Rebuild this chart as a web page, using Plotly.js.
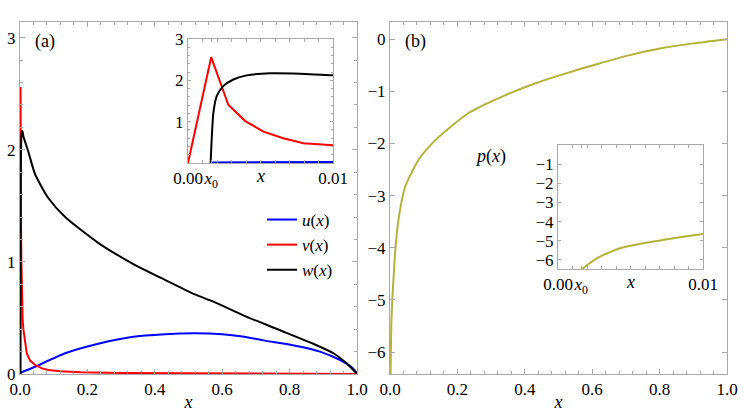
<!DOCTYPE html>
<html>
<head>
<meta charset="utf-8">
<script src="https://cdn.plot.ly/plotly-3.0.1.min.js"></script>
<style>html,body{margin:0;padding:0;background:#fff;}#chart{width:747px;height:412px;}</style>
</head>
<body>
<div id="chart"></div>
<script>
// ---- data ----
const xU = [0.0016, 0.01, 0.045, 0.134, 0.232, 0.331, 0.43, 0.519, 0.6, 0.66, 0.722, 0.821, 0.89, 0.95, 0.98, 1.0];
const uVals = [0.012, 0.022, 0.065, 0.185, 0.27, 0.33, 0.355, 0.363, 0.355, 0.335, 0.30, 0.25, 0.20, 0.125, 0.07, 0.01];

const xV = [0, 0.0016, 0.00278, 0.00393, 0.0052, 0.00657, 0.00795, 0.01, 0.02, 0.03, 0.045, 0.065, 0.084, 0.12, 0.18, 0.3, 0.5, 0.7, 1.0];
const vVals = [0, 2.56, 1.41, 1.02, 0.76, 0.60, 0.48, 0.40, 0.185, 0.12, 0.08, 0.05, 0.036, 0.024, 0.015, 0.009, 0.005, 0.003, 0.0];

const xW = [0.00156, 0.00175, 0.00198, 0.00243, 0.00313, 0.00405, 0.00566, 0.00772, 0.01, 0.025, 0.045, 0.084, 0.134, 0.232, 0.331, 0.43, 0.519, 0.574, 0.673, 0.772, 0.87, 0.93, 0.969, 1.0];
const wVals = [0.0, 1.21, 1.62, 1.86, 2.02, 2.12, 2.17, 2.16, 2.12, 1.98, 1.78, 1.57, 1.40, 1.17, 0.99, 0.84, 0.71, 0.645, 0.51, 0.39, 0.27, 0.185, 0.095, 0.0];

const xP = [0.0016, 0.00267, 0.00428, 0.00657, 0.0084, 0.01, 0.015, 0.025, 0.045, 0.084, 0.134, 0.232, 0.331, 0.43, 0.519, 0.603, 0.702, 0.801, 0.9, 1.0];
const pVals = [-6.5, -5.91, -5.39, -5.04, -4.81, -4.64, -4.11, -3.47, -2.83, -2.32, -1.94, -1.42, -1.105, -0.85, -0.66, -0.50, -0.32, -0.18, -0.08, 0.0];

const insetXTickVals = [0, 0.0016, 0.01];
const insetXTickText = ['0.00', '<i>x</i><sub>0</sub>', '0.01'];
const insetAYTicks = [1, 2, 3];
const insetBYTicks = [-1, -2, -3, -4, -5, -6];

const seriesNames = ['<i>u</i>(<i>x</i>)', '<i>v</i>(<i>x</i>)', '<i>w</i>(<i>x</i>)'];

// ---- styling ----
const FONT = 'Liberation Serif';
const FRAME = '#a8a8a8';
const cU = '#0000ff', cV = '#ff0000', cW = '#000000', cP = '#b4b23a';
const LW = 2;

function frameAxis(extra) {
  return Object.assign({
    showline: true, linecolor: FRAME, linewidth: 1, mirror: 'allticks',
    ticks: 'inside', ticklen: 5, tickcolor: FRAME, tickwidth: 1,
    showgrid: false, zeroline: false, tickangle: 0,
    tickfont: {family: FONT, size: 17, color: '#000'},
    fixedrange: true
  }, extra);
}

const smooth = {shape: 'spline', smoothing: 0.6};

const traces = [
  {x: xU, y: uVals, xaxis: 'x', yaxis: 'y', mode: 'lines', name: seriesNames[0], line: Object.assign({color: cU, width: LW}, smooth)},
  {x: xV, y: vVals, xaxis: 'x', yaxis: 'y', mode: 'lines', name: seriesNames[1], line: {color: cV, width: LW}},
  {x: xW, y: wVals, xaxis: 'x', yaxis: 'y', mode: 'lines', name: seriesNames[2], line: Object.assign({color: cW, width: LW}, smooth)},
  {x: xP, y: pVals, xaxis: 'x2', yaxis: 'y2', mode: 'lines', name: 'p(x)', showlegend: false, line: Object.assign({color: cP, width: LW}, smooth)},
  {x: xU, y: uVals, xaxis: 'x3', yaxis: 'y3', mode: 'lines', showlegend: false, line: {color: cU, width: LW}},
  {x: xV, y: vVals, xaxis: 'x3', yaxis: 'y3', mode: 'lines', showlegend: false, line: {color: cV, width: LW}},
  {x: xW, y: wVals, xaxis: 'x3', yaxis: 'y3', mode: 'lines', showlegend: false, line: Object.assign({color: cW, width: LW}, smooth)},
  {x: xP, y: pVals, xaxis: 'x4', yaxis: 'y4', mode: 'lines', showlegend: false, line: Object.assign({color: cP, width: LW}, smooth)}
];

const W = 747, H = 412;
const px = v => v / W, py = v => (H - v) / H;

const layout = {
  width: W, height: H,
  margin: {l: 0, r: 0, t: 0, b: 0},
  paper_bgcolor: '#fff', plot_bgcolor: 'rgba(0,0,0,0)',
  font: {family: FONT, size: 17, color: '#000'},
  showlegend: true,
  legend: {
    x: px(262), y: py(202), xanchor: 'left', yanchor: 'top',
    bgcolor: 'rgba(0,0,0,0)', borderwidth: 0,
    font: {family: FONT, size: 17, color: '#000'},
    tracegroupgap: 0
  },
  xaxis: frameAxis({domain: [px(20), px(357)], range: [0, 1], dtick: 0.2, tick0: 0, tickformat: '.1f',
    minor: {dtick: 0.04, ticklen: 3, tickcolor: FRAME, ticks: 'inside'},
    title: {text: '<i>x</i>', standoff: 0, font: {family: FONT, size: 18}}, anchor: 'y'}),
  yaxis: frameAxis({domain: [py(374), py(22)], range: [0, 3.14], dtick: 1, tick0: 0,
    minor: {dtick: 0.2, ticklen: 3, tickcolor: FRAME, ticks: 'inside'}, anchor: 'x'}),
  xaxis2: frameAxis({domain: [px(390), px(727)], range: [0, 1], dtick: 0.2, tick0: 0, tickformat: '.1f',
    minor: {dtick: 0.04, ticklen: 3, tickcolor: FRAME, ticks: 'inside'},
    title: {text: '<i>x</i>', standoff: 0, font: {family: FONT, size: 18}}, anchor: 'y2'}),
  yaxis2: frameAxis({domain: [py(374), py(22)], range: [-6.42, 0.33], dtick: 1, tick0: 0, anchor: 'x2'}),
  xaxis3: frameAxis({domain: [px(188), px(333)], range: [0, 0.01], tickmode: 'array',
    tickvals: insetXTickVals, ticktext: insetXTickText, ticklen: 3,
    minor: {tickmode: 'linear', tick0: 0, dtick: 0.001, ticklen: 3, tickcolor: FRAME, ticks: 'inside'}, anchor: 'y3'}),
  yaxis3: frameAxis({domain: [py(163), py(39)], range: [0, 3], tickmode: 'array', tickvals: insetAYTicks, ticklen: 3,
    minor: {tickmode: 'linear', tick0: 0, dtick: 0.2, ticklen: 2, tickcolor: FRAME, ticks: 'inside'}, anchor: 'x3'}),
  xaxis4: frameAxis({domain: [px(558), px(703)], range: [0, 0.01], tickmode: 'array',
    tickvals: insetXTickVals, ticktext: insetXTickText, ticklen: 3,
    minor: {tickmode: 'linear', tick0: 0, dtick: 0.001, ticklen: 3, tickcolor: FRAME, ticks: 'inside'}, anchor: 'y4'}),
  yaxis4: frameAxis({domain: [py(269), py(145)], range: [-6.47, 0], tickmode: 'array', tickvals: insetBYTicks, ticklen: 3, anchor: 'x4'}),
  annotations: [
    {text: '(a)', xref: 'paper', yref: 'paper', x: px(45), y: py(42), showarrow: false, xanchor: 'center', yanchor: 'middle', font: {family: FONT, size: 18}},
    {text: '(b)', xref: 'paper', yref: 'paper', x: px(415), y: py(42), showarrow: false, xanchor: 'center', yanchor: 'middle', font: {family: FONT, size: 18}},
    {text: '<i>p</i>(<i>x</i>)', xref: 'paper', yref: 'paper', x: px(491), y: py(156), showarrow: false, xanchor: 'center', yanchor: 'middle', font: {family: FONT, size: 18}},
    {text: '<i>x</i>', xref: 'x3', yref: 'paper', x: 0.005, y: py(176), showarrow: false, xanchor: 'center', yanchor: 'middle', font: {family: FONT, size: 18}},
    {text: '<i>x</i>', xref: 'x4', yref: 'paper', x: 0.005, y: py(282), showarrow: false, xanchor: 'center', yanchor: 'middle', font: {family: FONT, size: 18}}
  ]
};

Plotly.newPlot('chart', traces, layout, {displayModeBar: false, staticPlot: true});
</script>
</body>
</html>
